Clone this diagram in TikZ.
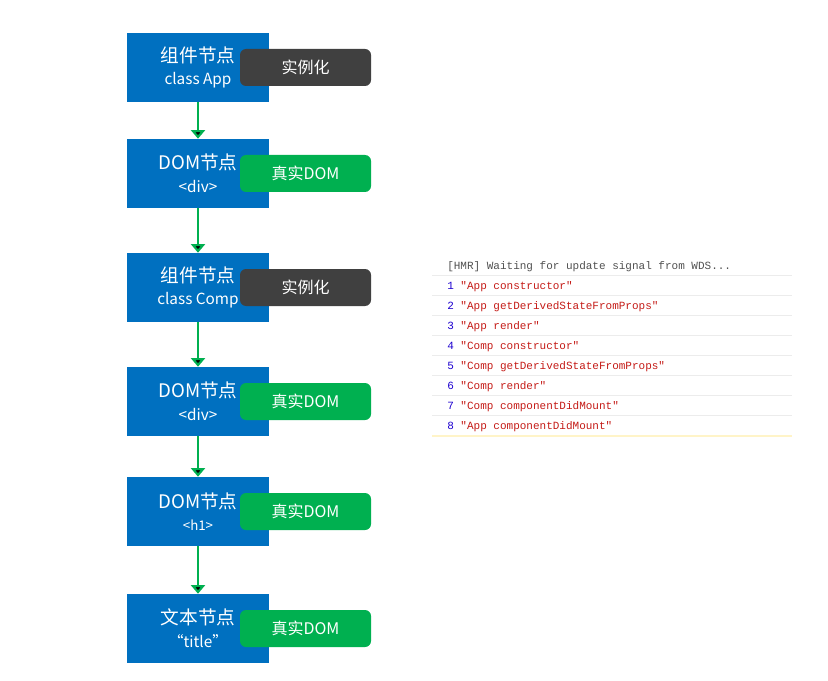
\documentclass[tikz,border=0pt]{standalone}
\usepackage{fontspec}
\setmainfont{Noto Sans CJK SC}
\setmonofont{Liberation Mono}
\usepackage{tikz}
\usetikzlibrary{positioning,arrows.meta}
\definecolor{domblue}{RGB}{0,112,192}
\definecolor{instgray}{RGB}{64,64,64}
\definecolor{realgreen}{RGB}{0,176,80}
\definecolor{lognum}{RGB}{28,0,207}
\definecolor{logstr}{RGB}{196,26,22}
\definecolor{loghead}{RGB}{80,80,80}
\definecolor{logsep}{RGB}{236,236,236}
\definecolor{logwarn}{RGB}{255,244,200}

\tikzset{
  vnode/.style={fill=domblue,text=white,align=center,inner sep=0pt,
    minimum width=106.5pt,minimum height=51.75pt,font=\fontsize{11.5pt}{17pt}\selectfont},
  tag/.style={rounded corners=4.5pt,text=white,inner sep=0pt,
    minimum width=98.25pt,minimum height=27.75pt,font=\fontsize{12pt}{14pt}\selectfont},
  inst/.style={tag,fill=instgray},
  real/.style={tag,fill=realgreen},
  flow/.style={-{Triangle[width=10.5pt,length=6.5pt]},draw=realgreen,line width=2pt},
  logline/.style={anchor=base west,inner sep=0pt,font=\ttfamily\fontsize{8.25pt}{10pt}\selectfont}
}
\newcommand{\kindtext}[1]{{\fontsize{14pt}{16pt}\selectfont #1}}

\begin{document}
\begin{tikzpicture}[x=0.75pt,y=-0.75pt]
      \useasboundingbox (0,0) rectangle (828,681);

      % virtual tree
      \node[vnode] (app) at (198,67.5) {\kindtext{组件节点}\\class App};
      \node[vnode] (div1) at (198,173.5) {\kindtext{DOM节点}\\<div>};
      \node[vnode] (comp) at (198,287.5) {\kindtext{组件节点}\\class Comp};
      \node[vnode] (div2) at (198,401.5) {\kindtext{DOM节点}\\<div>};
      \node[vnode] (h1) at (198,511.5) {\kindtext{DOM节点}\\{\fontsize{10pt}{12pt}\selectfont <h1>}};
      \node[vnode] (txt) at (198,628.5) {\kindtext{文本节点}\\“title”};

      % what each one becomes
      \node[inst] (appinst) at (305.5,67.5) {实例化};
      \node[real] (div1real) at (305.5,173.5) {真实DOM};
      \node[inst] (compinst) at (305.5,287.5) {实例化};
      \node[real] (div2real) at (305.5,401.5) {真实DOM};
      \node[real] (h1real) at (305.5,511.5) {真实DOM};
      \node[real] (txtreal) at (305.5,628.5) {真实DOM};

      \path[flow]
      (app) edge (div1)
      (div1) edge (comp)
      (comp) edge (div2)
      (div2) edge (h1)
      (h1) edge (txt);

      % console output
      \foreach \y in {275,295,...,415}
        \draw[logsep,line width=0.75pt] (432,\y) -- (792,\y);
      \draw[logwarn,line width=1.5pt] (432,435.5) -- (792,435.5);

      \node[logline,text=loghead] (l0) at (447,269) {[HMR] Waiting for update signal from WDS...};
      \foreach \i/\msg in {1/App constructor,2/App getDerivedStateFromProps,3/App render,
        4/Comp constructor,5/Comp getDerivedStateFromProps,6/Comp render,
        7/Comp componentDidMount,8/App componentDidMount}
        \node[logline] (l\i) at (447,269+20*\i) {\textcolor{lognum}{\i} \textcolor{logstr}{"\msg"}};
    \end{tikzpicture}
\end{document}
